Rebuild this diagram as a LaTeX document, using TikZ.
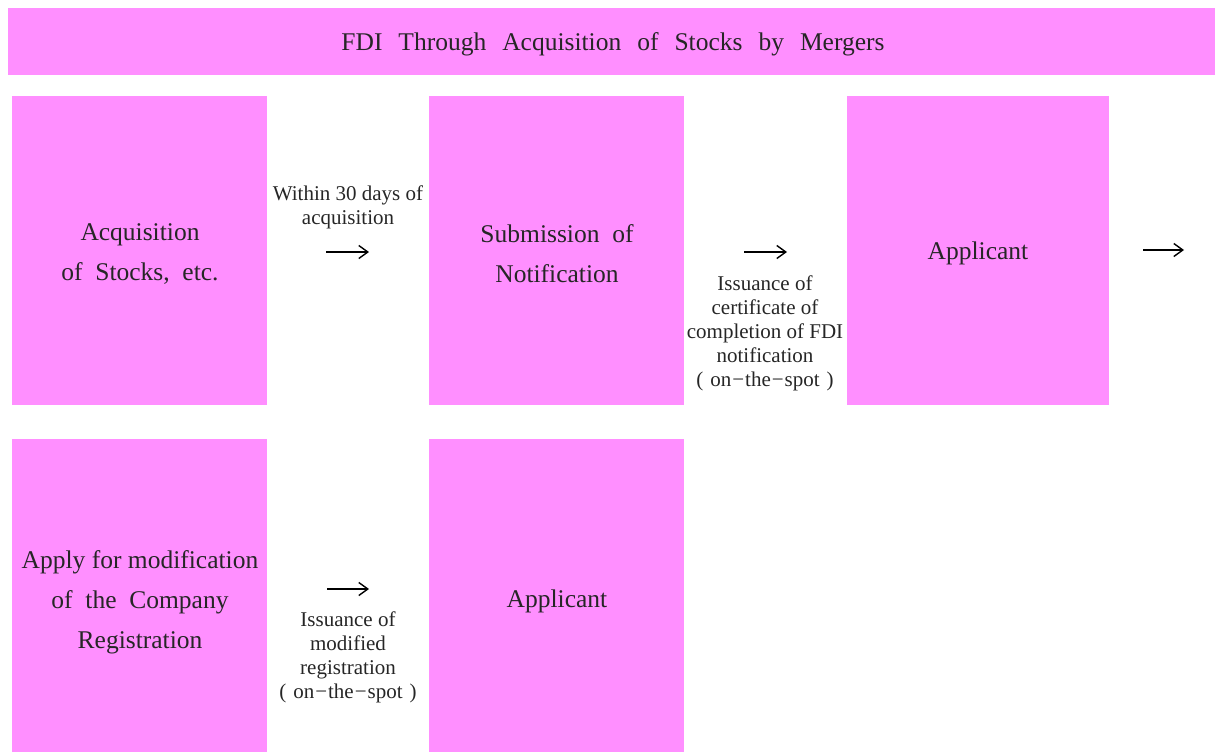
\documentclass[tikz,border=0pt]{standalone}
\usepackage{fontspec}
\setmainfont{Liberation Serif}
\usetikzlibrary{arrows.meta}
\definecolor{boxpink}{HTML}{FF8FFF}
\newcommand{\wgap}{\hspace{16pt}}
\newcommand{\spotnote}{(\hspace{7pt}on\kern1pt−\kern1pt the\kern1pt−\kern1pt spot\hspace{7pt})}
\tikzset{
  stagebox/.style={fill=boxpink, draw=none, inner sep=0pt, outer sep=0pt},
  boxtext/.style={align=center, font=\fontsize{25.5}{40}\selectfont, text=black!85},
  smalltext/.style={align=center, font=\fontsize{21}{24}\selectfont, text=black!85},
  titletext/.style={font=\fontsize{25.5}{28}\selectfont, text=black!85},
  flow/.style={line width=1.4pt, -{Straight Barb[length=9pt,width=13pt,line width=1.4pt]}}
}
\begin{document}
\begin{tikzpicture}[x=1pt,y=-1pt]
  \useasboundingbox (0,0) rectangle (1216,753);

  % title bar
  \fill[boxpink] (8,8) rectangle (1215,75);
  \node[titletext] (title) at (613,44) {FDI\wgap Through\wgap Acquisition\wgap of\wgap Stocks\wgap by\wgap Mergers};

  % first row of stages
  \fill[boxpink] (12,96) rectangle (267,405);
  \fill[boxpink] (429,96) rectangle (684,405);
  \fill[boxpink] (847,96) rectangle (1109,405);
  \node[boxtext] (acq) at (140,254) {Acquisition\\of\ \ Stocks,\ \ etc.};
  \node[boxtext] (sub) at (557,254) {Submission\ \ of\\Notification};
  \node[boxtext] (app1) at (978,253) {Applicant};

  % second row of stages
  \fill[boxpink] (12,439) rectangle (267,752);
  \fill[boxpink] (429,439) rectangle (684,752);
  \node[boxtext] (mod) at (140,602) {Apply\ for\ modification\\of\ \ the\ \ Company\\Registration};
  \node[boxtext] (app2) at (557,601) {Applicant};

  % step notes
  \node[smalltext] (n1) at (348,207) {Within\ 30\ days\ of\\acquisition};
  \node[smalltext] (n2) at (765,333) {Issuance\ of\\certificate\ of\\completion\ of\ FDI\\notification\\\spotnote};
  \node[smalltext] (n3) at (348,657) {Issuance\ of\\modified\\registration\\\spotnote};

  % step arrows
  \coordinate (a1s) at (326,252); \coordinate (a1e) at (369,252);
  \coordinate (a2s) at (744,252); \coordinate (a2e) at (787,252);
  \coordinate (a3s) at (1143,250); \coordinate (a3e) at (1184,250);
  \coordinate (a4s) at (327,589); \coordinate (a4e) at (369,589);
  \draw[flow] (a1s) -- (a1e);
  \draw[flow] (a2s) -- (a2e);
  \draw[flow] (a3s) -- (a3e);
  \draw[flow] (a4s) -- (a4e);
\end{tikzpicture}
\end{document}
